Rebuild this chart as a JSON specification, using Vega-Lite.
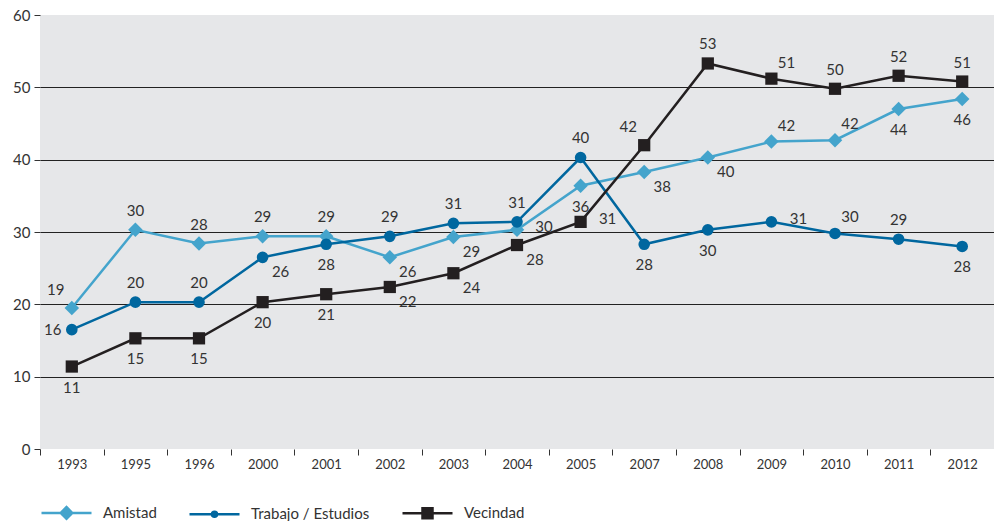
{
  "$schema": "https://vega.github.io/schema/vega-lite/v6.json",
  "width": 954,
  "height": 434,
  "autosize": {"type": "none"},
  "padding": {"left": 40, "top": 15, "right": 0, "bottom": 72},
  "background": "white",
  "config": {
    "view": {"fill": "#e6e7e9", "stroke": null},
    "font": "Lato",
    "text": {"font": "Lato"}
  },
  "data": {
    "values": [
      {"year": "1993", "series": "Amistad", "value": 19.5, "label": "19", "pos": "above-left"},
      {"year": "1995", "series": "Amistad", "value": 30.3, "label": "30", "pos": "above"},
      {"year": "1996", "series": "Amistad", "value": 28.4, "label": "28", "pos": "above"},
      {"year": "2000", "series": "Amistad", "value": 29.4, "label": "29", "pos": "above"},
      {"year": "2001", "series": "Amistad", "value": 29.4, "label": "29", "pos": "above"},
      {"year": "2002", "series": "Amistad", "value": 26.5, "label": "26", "pos": "below-right"},
      {"year": "2003", "series": "Amistad", "value": 29.3, "label": "29", "pos": "below-right"},
      {"year": "2004", "series": "Amistad", "value": 30.3, "label": "30", "pos": "right"},
      {"year": "2005", "series": "Amistad", "value": 36.4, "label": "36", "pos": "below"},
      {"year": "2007", "series": "Amistad", "value": 38.3, "label": "38", "pos": "below-right"},
      {"year": "2008", "series": "Amistad", "value": 40.3, "label": "40", "pos": "below-right"},
      {"year": "2009", "series": "Amistad", "value": 42.5, "label": "42", "pos": "above-right"},
      {"year": "2010", "series": "Amistad", "value": 42.7, "label": "42", "pos": "above-right"},
      {"year": "2011", "series": "Amistad", "value": 47.0, "label": "44", "pos": "below"},
      {"year": "2012", "series": "Amistad", "value": 48.4, "label": "46", "pos": "below"},
      {"year": "1993", "series": "Trabajo / Estudios", "value": 16.5, "label": "16", "pos": "left"},
      {"year": "1995", "series": "Trabajo / Estudios", "value": 20.3, "label": "20", "pos": "above"},
      {"year": "1996", "series": "Trabajo / Estudios", "value": 20.3, "label": "20", "pos": "above"},
      {"year": "2000", "series": "Trabajo / Estudios", "value": 26.5, "label": "26", "pos": "below-right"},
      {"year": "2001", "series": "Trabajo / Estudios", "value": 28.3, "label": "28", "pos": "below"},
      {"year": "2002", "series": "Trabajo / Estudios", "value": 29.4, "label": "29", "pos": "above"},
      {"year": "2003", "series": "Trabajo / Estudios", "value": 31.2, "label": "31", "pos": "above"},
      {"year": "2004", "series": "Trabajo / Estudios", "value": 31.4, "label": "31", "pos": "above"},
      {"year": "2005", "series": "Trabajo / Estudios", "value": 40.3, "label": "40", "pos": "above"},
      {"year": "2007", "series": "Trabajo / Estudios", "value": 28.3, "label": "28", "pos": "below"},
      {"year": "2008", "series": "Trabajo / Estudios", "value": 30.3, "label": "30", "pos": "below"},
      {"year": "2009", "series": "Trabajo / Estudios", "value": 31.4, "label": "31", "pos": "right"},
      {"year": "2010", "series": "Trabajo / Estudios", "value": 29.8, "label": "30", "pos": "above-right"},
      {"year": "2011", "series": "Trabajo / Estudios", "value": 29.0, "label": "29", "pos": "above"},
      {"year": "2012", "series": "Trabajo / Estudios", "value": 28.0, "label": "28", "pos": "below"},
      {"year": "1993", "series": "Vecindad", "value": 11.4, "label": "11", "pos": "below"},
      {"year": "1995", "series": "Vecindad", "value": 15.3, "label": "15", "pos": "below"},
      {"year": "1996", "series": "Vecindad", "value": 15.3, "label": "15", "pos": "below"},
      {"year": "2000", "series": "Vecindad", "value": 20.3, "label": "20", "pos": "below"},
      {"year": "2001", "series": "Vecindad", "value": 21.4, "label": "21", "pos": "below"},
      {"year": "2002", "series": "Vecindad", "value": 22.4, "label": "22", "pos": "below-right"},
      {"year": "2003", "series": "Vecindad", "value": 24.3, "label": "24", "pos": "below-right"},
      {"year": "2004", "series": "Vecindad", "value": 28.2, "label": "28", "pos": "below-right"},
      {"year": "2005", "series": "Vecindad", "value": 31.4, "label": "31", "pos": "right"},
      {"year": "2007", "series": "Vecindad", "value": 42.0, "label": "42", "pos": "above-left"},
      {"year": "2008", "series": "Vecindad", "value": 53.3, "label": "53", "pos": "above"},
      {"year": "2009", "series": "Vecindad", "value": 51.2, "label": "51", "pos": "above-right"},
      {"year": "2010", "series": "Vecindad", "value": 49.8, "label": "50", "pos": "above"},
      {"year": "2011", "series": "Vecindad", "value": 51.6, "label": "52", "pos": "above"},
      {"year": "2012", "series": "Vecindad", "value": 50.8, "label": "51", "pos": "above"}
    ]
  },
  "encoding": {
    "x": {
      "field": "year",
      "type": "ordinal",
      "scale": {"type": "band", "paddingInner": 0, "paddingOuter": 0},
      "axis": {
        "title": null,
        "domain": false,
        "tickBand": "extent",
        "tickSize": 6,
        "tickColor": "#333333",
        "labelAngle": 0,
        "labelFontSize": 13,
        "labelColor": "#333333",
        "labelPadding": 3
      }
    },
    "y": {
      "field": "value",
      "type": "quantitative",
      "scale": {"domain": [0, 60], "nice": false},
      "axis": {
        "title": null,
        "domain": false,
        "values": [0, 10, 20, 30, 40, 50, 60],
        "tickSize": 6,
        "tickColor": "#333333",
        "labelFontSize": 15,
        "labelColor": "#333333",
        "labelPadding": 4,
        "grid": true,
        "gridColor": {"condition": {"test": "datum.value === 0 || datum.value === 60", "value": null}, "value": "#222222"},
        "gridWidth": 1
      }
    },
    "color": {
      "field": "series",
      "type": "nominal",
      "scale": {"domain": ["Amistad", "Trabajo / Estudios", "Vecindad"], "range": ["#44a4cc", "#00679f", "#231f20"]},
      "legend": {
        "title": null,
        "orient": "bottom",
        "direction": "horizontal",
        "offset": 15,
        "symbolSize": 2500,
        "symbolStrokeWidth": 2.5,
        "labelOffset": 10,
        "columnPadding": 27,
        "labelFontSize": 15,
        "labelColor": "#333333",
        "labelFont": "Lato",
        "encode": {
          "symbols": {
            "update": {
              "shape": {"signal": "datum.value === 'Amistad' ? 'M-1,0H1M-0.23,0L0,-0.23L0.23,0L0,0.23Z' : datum.value === 'Vecindad' ? 'M-1,0H1M-0.2,-0.2H0.2V0.2H-0.2Z' : 'M-1,0H1M-0.1,0A0.1,0.1 0 1,0 0.1,0A0.1,0.1 0 1,0 -0.1,0Z'"},
              "size": {"value": 2500},
              "stroke": {"signal": "scale('color', datum.value)"},
              "fill": {"signal": "scale('color', datum.value)"},
              "strokeWidth": {"value": 2.5},
              "opacity": {"value": 1}
            }
          }
        }
      }
    }
  },
  "layer": [
    {
      "mark": {"type": "line", "strokeWidth": 2.5},
      "encoding": {}
    },
    {
      "transform": [{"filter": "datum.series === 'Amistad'"}],
      "mark": {"type": "point", "filled": true, "opacity": 1, "strokeWidth": 0, "shape": "diamond", "size": 210},
      "encoding": {}
    },
    {
      "transform": [{"filter": "datum.series === 'Trabajo / Estudios'"}],
      "mark": {"type": "point", "filled": true, "opacity": 1, "strokeWidth": 0, "shape": "circle", "size": 135},
      "encoding": {}
    },
    {
      "transform": [{"filter": "datum.series === 'Vecindad'"}],
      "mark": {"type": "point", "filled": true, "opacity": 1, "strokeWidth": 0, "shape": "square", "size": 150},
      "encoding": {}
    },
    {
      "transform": [{"filter": "datum.pos === 'above'"}],
      "mark": {"type": "text", "fontSize": 15, "dy": -19, "baseline": "middle", "align": "center"},
      "encoding": {"text": {"field": "label"}, "color": {"value": "#333333"}}
    },
    {
      "transform": [{"filter": "datum.pos === 'below'"}],
      "mark": {"type": "text", "fontSize": 15, "dy": 21, "baseline": "middle", "align": "center"},
      "encoding": {"text": {"field": "label"}, "color": {"value": "#333333"}}
    },
    {
      "transform": [{"filter": "datum.pos === 'left'"}],
      "mark": {"type": "text", "fontSize": 15, "dx": -19, "baseline": "middle", "align": "center"},
      "encoding": {"text": {"field": "label"}, "color": {"value": "#333333"}}
    },
    {
      "transform": [{"filter": "datum.pos === 'right'"}],
      "mark": {"type": "text", "fontSize": 15, "dx": 27, "dy": -3, "baseline": "middle", "align": "center"},
      "encoding": {"text": {"field": "label"}, "color": {"value": "#333333"}}
    },
    {
      "transform": [{"filter": "datum.pos === 'above-right'"}],
      "mark": {"type": "text", "fontSize": 15, "dx": 15, "dy": -16, "baseline": "middle", "align": "center"},
      "encoding": {"text": {"field": "label"}, "color": {"value": "#333333"}}
    },
    {
      "transform": [{"filter": "datum.pos === 'below-right'"}],
      "mark": {"type": "text", "fontSize": 15, "dx": 18, "dy": 15, "baseline": "middle", "align": "center"},
      "encoding": {"text": {"field": "label"}, "color": {"value": "#333333"}}
    },
    {
      "transform": [{"filter": "datum.pos === 'above-left'"}],
      "mark": {"type": "text", "fontSize": 15, "dx": -16, "dy": -18, "baseline": "middle", "align": "center"},
      "encoding": {"text": {"field": "label"}, "color": {"value": "#333333"}}
    }
  ]
}
